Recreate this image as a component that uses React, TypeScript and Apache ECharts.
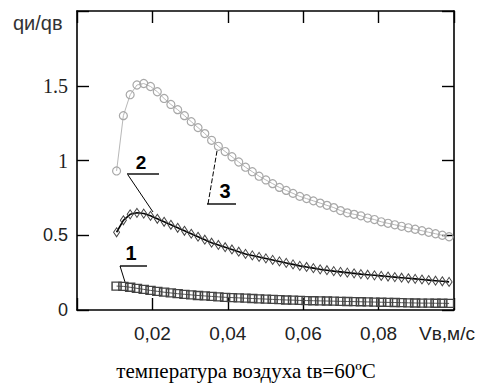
import React, { useEffect, useRef } from "react";
import * as echarts from "echarts";

const xValues = [
  0.0105, 0.0123, 0.0141, 0.0159, 0.0177, 0.0195, 0.0213, 0.0231, 0.0249, 0.0267,
  0.0285, 0.0303, 0.0321, 0.0339, 0.0357, 0.0375, 0.0393, 0.0411, 0.0429, 0.0447,
  0.0465, 0.0483, 0.0501, 0.0519, 0.0537, 0.0555, 0.0573, 0.0591, 0.0609, 0.0627,
  0.0645, 0.0663, 0.0681, 0.0699, 0.0717, 0.0735, 0.0753, 0.0771, 0.0789, 0.0807,
  0.0825, 0.0843, 0.0861, 0.0879, 0.0897, 0.0915, 0.0933, 0.0951, 0.0969, 0.0987,
];

const series1 = [
  0.16, 0.158, 0.152, 0.145, 0.138, 0.131, 0.125, 0.119, 0.114, 0.109,
  0.105, 0.101, 0.097, 0.094, 0.091, 0.088, 0.085, 0.083, 0.081, 0.079,
  0.077, 0.075, 0.073, 0.071, 0.069, 0.067, 0.066, 0.064, 0.063, 0.062,
  0.061, 0.06, 0.059, 0.058, 0.057, 0.056, 0.055, 0.054, 0.053, 0.052,
  0.051, 0.05, 0.049, 0.048, 0.047, 0.046, 0.046, 0.045, 0.045, 0.044,
];

const series2 = [
  0.52, 0.6, 0.64, 0.65, 0.645, 0.63, 0.61, 0.59, 0.57, 0.55,
  0.53, 0.51, 0.49, 0.47, 0.45, 0.435, 0.42, 0.405, 0.39, 0.375,
  0.365, 0.355, 0.345, 0.335, 0.325, 0.315, 0.305, 0.295, 0.288, 0.28,
  0.272, 0.266, 0.26, 0.255, 0.25, 0.245, 0.24, 0.236, 0.232, 0.228,
  0.224, 0.22, 0.216, 0.212, 0.208, 0.204, 0.2, 0.196, 0.192, 0.188,
];

const series3 = [
  0.93, 1.3, 1.44, 1.505, 1.515, 1.495, 1.46, 1.415, 1.375, 1.34,
  1.3, 1.26, 1.22, 1.18, 1.135, 1.095, 1.06, 1.025, 0.99, 0.955,
  0.925, 0.895, 0.87, 0.845, 0.82, 0.8, 0.78, 0.76, 0.745, 0.73,
  0.715, 0.7, 0.685, 0.665, 0.65, 0.64, 0.63, 0.615, 0.605, 0.59,
  0.58, 0.57, 0.56, 0.55, 0.54, 0.53, 0.52, 0.51, 0.5, 0.49,
];

const xMin = 0;
const xMax = 0.1;
const xInterval = 0.02;
const yMin = 0;
const yMax = 2;
const yInterval = 0.5;

const yAxisTitle = "qи/qв";
const xAxisUnit = "Vв,м/с";
const caption = "температура воздуха tв=60ºC";
const curveLabels = ["1", "2", "3"];

const SANS = "Liberation Sans";
const SERIF = "Liberation Serif";

function pairs(ys: number[]) {
  return ys.map((y, i) => [xValues[i], y]);
}

function frameAxis(extra: any) {
  return {
    type: "value",
    axisLine: { show: true, onZero: false, lineStyle: { color: "#000", width: 1.6 } },
    axisTick: { show: true, inside: true, length: 12, lineStyle: { color: "#000", width: 1.4 } },
    splitLine: { show: false },
    ...extra,
  };
}

export default function App() {
  const ref = useRef<HTMLDivElement>(null);

  useEffect(() => {
    if (!ref.current) return;
    const chart = echarts.init(ref.current, null, { renderer: "svg" });

    const option: any = {
      animation: false,
      grid: { left: 77, top: 11, width: 377, height: 299 },
      xAxis: [
        frameAxis({
          position: "bottom",
          min: xMin,
          max: xMax,
          interval: xInterval,
          axisLabel: {
            show: true,
            margin: 14,
            color: "#222",
            fontFamily: SANS,
            fontSize: 19,
            formatter: (v: number) => {
              if (Math.abs(v) < 1e-9) return "";
              if (Math.abs(v - xMax) < 1e-9) return "{u|" + xAxisUnit + "}";
              return v.toFixed(2).replace(".", ",");
            },
            rich: { u: { fontFamily: SANS, fontSize: 19, color: "#222", padding: [0, 14, 0, 0] } },
          },
        }),
        frameAxis({
          position: "top",
          min: xMin,
          max: xMax,
          interval: xInterval,
          axisLabel: { show: false },
        }),
      ],
      yAxis: [
        frameAxis({
          position: "left",
          min: yMin,
          max: yMax,
          interval: yInterval,
          axisLabel: {
            show: true,
            margin: 9,
            formatter: (v: number) => {
              if (Math.abs(v - yMax) < 1e-9) return "";
              if (v === 0 || v === 0.5) return "{n|" + String(v) + "}";
              return "{s|" + String(v) + "}";
            },
            rich: {
              n: { fontFamily: SANS, fontSize: 18, color: "#222" },
              s: { fontFamily: SERIF, fontSize: 20, color: "#222" },
            },
          },
        }),
        frameAxis({
          position: "right",
          min: yMin,
          max: yMax,
          interval: yInterval,
          axisLabel: { show: false },
        }),
      ],
      series: [
        {
          type: "line",
          name: "1",
          data: pairs(series1),
          symbol: "rect",
          symbolSize: [9, 8],
          showAllSymbol: true,
          lineStyle: { color: "#555", width: 1 },
          itemStyle: { color: "rgba(255,255,255,0)", borderColor: "#444", borderWidth: 1.4 },
        },
        {
          type: "line",
          name: "2",
          data: pairs(series2),
          symbol: "diamond",
          symbolSize: [6, 9],
          showAllSymbol: true,
          lineStyle: { color: "#000", width: 1.6 },
          itemStyle: { color: "rgba(255,255,255,0)", borderColor: "#444", borderWidth: 1 },
        },
        {
          type: "line",
          name: "3",
          data: pairs(series3),
          symbol: "circle",
          symbolSize: 8,
          showAllSymbol: true,
          lineStyle: { color: "#b8b8b8", width: 1 },
          itemStyle: { color: "rgba(255,255,255,0)", borderColor: "#a8a8a8", borderWidth: 1.2 },
        },
      ],
      graphic: [
        {
          type: "text",
          x: 13,
          y: 13,
          style: { text: yAxisTitle, fontFamily: SANS, fontSize: 20, fill: "#333" },
        },
        {
          type: "text",
          x: 246,
          y: 371,
          style: { text: caption, fontFamily: SERIF, fontSize: 21, fill: "#000", align: "center", verticalAlign: "middle" },
        },
        {
          type: "text",
          x: 131,
          y: 253,
          style: { text: curveLabels[0], fontFamily: SANS, fontWeight: "bold", fontSize: 20, fill: "#000", align: "center", verticalAlign: "middle" },
        },
        { type: "line", shape: { x1: 120, y1: 266, x2: 147, y2: 266 }, style: { stroke: "#000", lineWidth: 1.4 } },
        { type: "line", shape: { x1: 120, y1: 266, x2: 125, y2: 282 }, style: { stroke: "#000", lineWidth: 1 } },
        {
          type: "text",
          x: 141,
          y: 162,
          style: { text: curveLabels[1], fontFamily: SANS, fontWeight: "bold", fontSize: 19, fill: "#000", align: "center", verticalAlign: "middle" },
        },
        { type: "line", shape: { x1: 127, y1: 174, x2: 159, y2: 174 }, style: { stroke: "#000", lineWidth: 1.4 } },
        { type: "line", shape: { x1: 128, y1: 175, x2: 153, y2: 212 }, style: { stroke: "#000", lineWidth: 1 } },
        {
          type: "text",
          x: 225,
          y: 191,
          style: { text: curveLabels[2], fontFamily: SANS, fontWeight: "bold", fontSize: 20, fill: "#000", align: "center", verticalAlign: "middle" },
        },
        { type: "line", shape: { x1: 207, y1: 204, x2: 236, y2: 204 }, style: { stroke: "#000", lineWidth: 1.4 } },
        { type: "line", shape: { x1: 208, y1: 204, x2: 217, y2: 151 }, style: { stroke: "#000", lineWidth: 1, lineDash: [5, 2] } },
      ],
    };

    chart.setOption(option);
    return () => chart.dispose();
  }, []);

  return (
    <div
      ref={ref}
      style={{ position: "fixed", left: 0, top: 0, width: 484, height: 383, background: "#fff" }}
    />
  );
}
